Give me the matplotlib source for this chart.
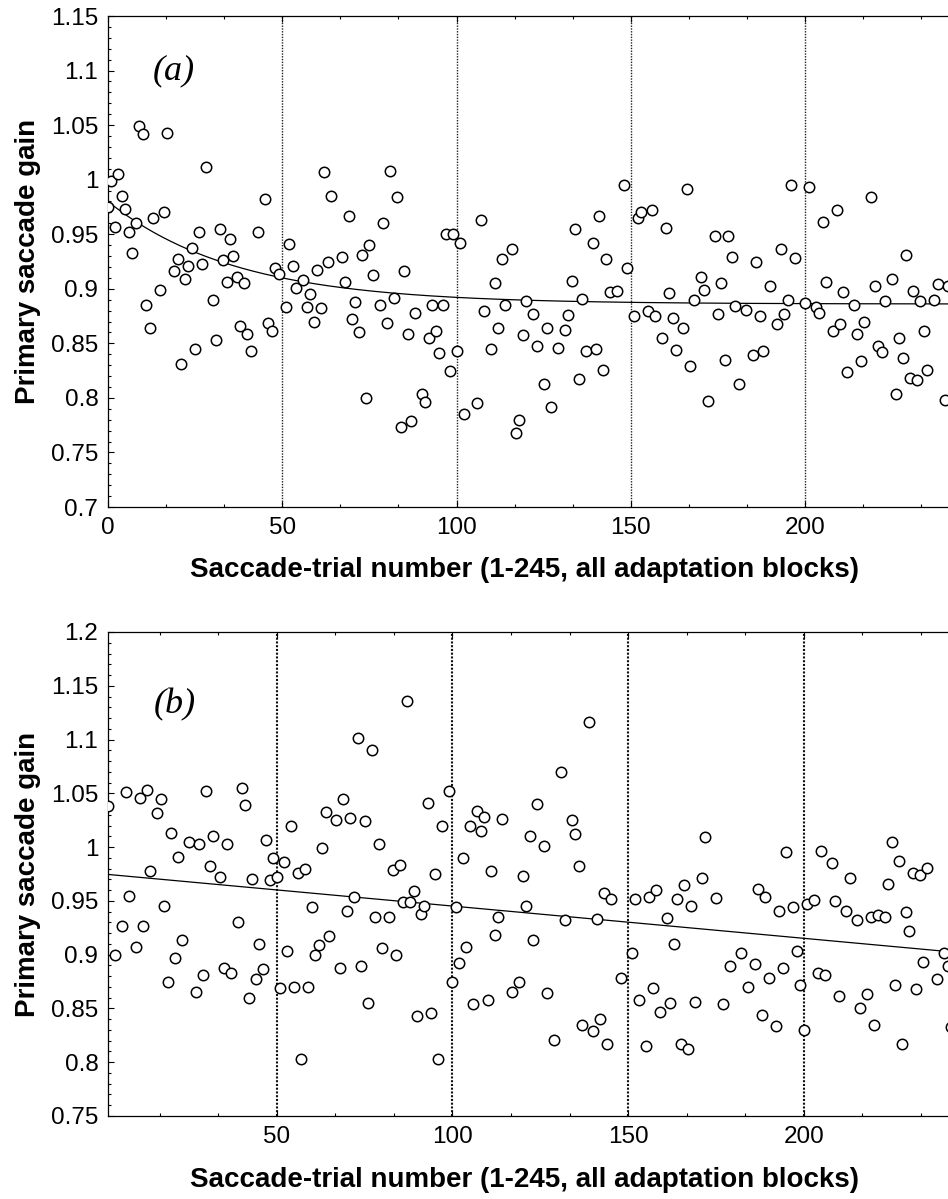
import numpy as np
import matplotlib
matplotlib.use("Agg")
import matplotlib.pyplot as plt
from matplotlib.ticker import MultipleLocator, FuncFormatter

# ---------------------------
# Data
# ---------------------------

# panel (a): trial number and primary saccade gain
trial_a = [0, 1, 2, 3, 4, 5, 6, 7, 8, 9, 10, 11, 12, 13, 15, 16, 17, 19, 20, 21,
           22, 23, 24, 25, 26, 27, 28, 30, 31, 32, 33, 34, 35, 36, 37, 38, 39, 40, 41, 43,
           45, 46, 47, 48, 49, 51, 52, 53, 54, 56, 57, 58, 59, 60, 61, 62, 63, 64, 67, 68,
           69, 70, 71, 72, 73, 74, 75, 76, 78, 79, 80, 81, 82, 83, 84, 85, 86, 87, 88, 90,
           91, 92, 93, 94, 95, 96, 97, 98, 99, 100, 101, 102, 106, 107, 108, 110, 111, 112, 113, 114,
           116, 117, 118, 119, 120, 122, 123, 125, 126, 127, 129, 131, 132, 133, 134, 135, 136, 137, 139, 140,
           141, 142, 143, 144, 146, 148, 149, 151, 152, 153, 155, 156, 157, 159, 160, 161, 162, 163, 165, 166,
           167, 168, 170, 171, 172, 174, 175, 176, 177, 178, 179, 180, 181, 183, 185, 186, 187, 188, 190, 192,
           193, 194, 195, 196, 197, 200, 201, 203, 204, 205, 206, 208, 209, 210, 211, 212, 214, 215, 216, 217,
           219, 220, 221, 222, 223, 225, 226, 227, 228, 229, 230, 231, 232, 233, 234, 235, 237, 238, 240, 241]
gain_a = [0.975, 0.999, 0.957, 1.005, 0.985, 0.973, 0.952, 0.933, 0.960, 1.049, 1.042, 0.885, 0.864, 0.965, 0.899, 0.970, 1.043, 0.916, 0.927, 0.831,
          0.909, 0.921, 0.937, 0.845, 0.952, 0.923, 1.012, 0.890, 0.853, 0.955, 0.926, 0.906, 0.946, 0.930, 0.911, 0.866, 0.905, 0.859, 0.843, 0.952,
          0.982, 0.869, 0.861, 0.919, 0.914, 0.883, 0.941, 0.921, 0.901, 0.908, 0.883, 0.895, 0.870, 0.917, 0.882, 1.007, 0.925, 0.985, 0.929, 0.906,
          0.967, 0.872, 0.888, 0.860, 0.931, 0.800, 0.940, 0.913, 0.885, 0.960, 0.869, 1.008, 0.892, 0.984, 0.773, 0.916, 0.859, 0.779, 0.878, 0.804,
          0.796, 0.855, 0.885, 0.861, 0.841, 0.885, 0.950, 0.825, 0.950, 0.843, 0.942, 0.785, 0.795, 0.963, 0.880, 0.845, 0.905, 0.864, 0.927, 0.885,
          0.936, 0.768, 0.780, 0.858, 0.889, 0.877, 0.848, 0.813, 0.864, 0.792, 0.846, 0.862, 0.876, 0.907, 0.955, 0.817, 0.891, 0.843, 0.942, 0.845,
          0.967, 0.826, 0.927, 0.897, 0.898, 0.995, 0.919, 0.875, 0.965, 0.970, 0.880, 0.972, 0.875, 0.855, 0.956, 0.896, 0.873, 0.844, 0.864, 0.991,
          0.829, 0.890, 0.911, 0.899, 0.797, 0.948, 0.877, 0.905, 0.835, 0.948, 0.929, 0.884, 0.813, 0.881, 0.839, 0.925, 0.875, 0.843, 0.903, 0.868,
          0.936, 0.877, 0.890, 0.995, 0.928, 0.887, 0.993, 0.883, 0.878, 0.961, 0.906, 0.861, 0.972, 0.868, 0.897, 0.824, 0.885, 0.859, 0.834, 0.870,
          0.984, 0.903, 0.848, 0.842, 0.889, 0.909, 0.804, 0.855, 0.837, 0.931, 0.818, 0.898, 0.816, 0.889, 0.861, 0.826, 0.890, 0.904, 0.798, 0.903]

# panel (a) exponential fit: asymptote + amplitude * exp(-trial / tau)
fit_a_asym = 0.886
fit_a_amp = 0.094
fit_a_tau = 36.6

# panel (b): trial number and primary saccade gain
trial_b = [2, 4, 6, 7, 8, 10, 11, 12, 13, 14, 16, 17, 18, 19, 20, 21, 22, 23, 25, 27,
           28, 29, 30, 31, 32, 34, 35, 36, 37, 39, 40, 41, 42, 43, 44, 45, 46, 47, 48, 49,
           50, 51, 52, 53, 54, 55, 56, 57, 58, 59, 60, 61, 62, 63, 64, 65, 67, 68, 69, 70,
           71, 72, 73, 74, 75, 76, 77, 78, 79, 80, 82, 83, 84, 85, 86, 87, 88, 89, 90, 91,
           92, 93, 94, 95, 96, 97, 99, 100, 101, 102, 103, 104, 105, 106, 107, 108, 109, 110, 111, 112,
           113, 114, 117, 119, 120, 121, 122, 123, 124, 126, 127, 129, 131, 132, 134, 135, 136, 137, 139, 140,
           141, 142, 143, 144, 145, 148, 151, 152, 153, 155, 156, 157, 158, 159, 161, 162, 163, 164, 165, 166,
           167, 168, 169, 171, 172, 175, 177, 179, 182, 184, 186, 187, 188, 189, 190, 192, 193, 194, 195, 197,
           198, 199, 200, 201, 203, 204, 205, 206, 208, 209, 210, 212, 213, 215, 216, 218, 219, 220, 221, 223,
           224, 225, 226, 227, 228, 229, 230, 231, 232, 233, 234, 235, 238, 240, 241, 242]
gain_b = [1.038, 0.900, 0.927, 1.051, 0.955, 0.907, 1.046, 0.927, 1.053, 0.978, 1.032, 1.045, 0.945, 0.875, 1.013, 0.897, 0.991, 0.914, 1.005, 0.865,
          1.003, 0.881, 1.052, 0.982, 1.010, 0.972, 0.888, 1.003, 0.883, 0.930, 1.055, 1.039, 0.860, 0.970, 0.877, 0.910, 0.887, 1.007, 0.969, 0.990,
          0.972, 0.869, 0.986, 0.903, 1.020, 0.870, 0.976, 0.803, 0.980, 0.870, 0.944, 0.900, 0.909, 0.999, 1.033, 0.917, 1.025, 0.888, 1.045, 0.941,
          1.027, 0.954, 1.101, 0.889, 1.024, 0.855, 1.090, 0.935, 1.003, 0.906, 0.935, 0.979, 0.900, 0.983, 0.949, 1.136, 0.949, 0.959, 0.843, 0.938,
          0.945, 1.041, 0.846, 0.975, 0.803, 1.020, 1.052, 0.875, 0.944, 0.892, 0.990, 0.907, 1.020, 0.854, 1.034, 1.015, 1.028, 0.858, 0.978, 0.918,
          0.935, 1.026, 0.865, 0.875, 0.973, 0.945, 1.010, 0.914, 1.040, 1.001, 0.864, 0.821, 1.070, 0.932, 1.025, 1.012, 0.982, 0.835, 1.116, 0.829,
          0.933, 0.840, 0.957, 0.817, 0.952, 0.878, 0.902, 0.952, 0.858, 0.815, 0.954, 0.869, 0.960, 0.847, 0.934, 0.855, 0.910, 0.952, 0.817, 0.965,
          0.812, 0.945, 0.856, 0.971, 1.009, 0.953, 0.854, 0.889, 0.902, 0.870, 0.891, 0.961, 0.844, 0.954, 0.878, 0.834, 0.941, 0.888, 0.995, 0.944,
          0.903, 0.872, 0.830, 0.947, 0.951, 0.883, 0.996, 0.881, 0.985, 0.950, 0.862, 0.941, 0.971, 0.932, 0.850, 0.863, 0.935, 0.835, 0.937, 0.935,
          0.966, 1.005, 0.872, 0.987, 0.817, 0.940, 0.922, 0.976, 0.868, 0.974, 0.893, 0.981, 0.877, 0.902, 0.889, 0.833]

# panel (b) linear fit
fit_b_intercept = 0.9752
fit_b_slope = -0.0003

block_edges = [50, 100, 150, 200]

XLABEL = "Saccade-trial number (1-245, all adaptation blocks)"
YLABEL = "Primary saccade gain"

# ---------------------------
# Figure
# ---------------------------
W, H = 948, 1199
fig = plt.figure(figsize=(W / 100, H / 100), dpi=100)
plt.rcParams["font.family"] = ["Liberation Sans", "DejaVu Sans"]


def px_axes(left, top, right, bottom):
    return [left / W, 1 - bottom / H, (right - left) / W, (bottom - top) / H]


def style_axes(ax, ylo, yhi, xlo):
    ax.set_xlim(xlo, 245)
    ax.set_ylim(ylo, yhi)
    ax.yaxis.set_major_locator(MultipleLocator(0.05))
    ax.yaxis.set_minor_locator(MultipleLocator(0.01))
    ax.yaxis.set_major_formatter(FuncFormatter(lambda v, p: "%g" % round(v, 2)))
    ax.xaxis.set_major_locator(MultipleLocator(50))
    ax.xaxis.set_minor_locator(MultipleLocator(50 / 3))
    ax.tick_params(which="both", direction="in", top=True, right=False,
                   labelsize=17.5, width=0.8, pad=7)
    ax.tick_params(which="major", length=4)
    ax.tick_params(which="minor", length=2.5)
    for s in ax.spines.values():
        s.set_linewidth(0.9)


# panel (a)
ax1 = fig.add_axes(px_axes(108, 16, 962, 507))
for xe in block_edges:
    ax1.axvline(xe, color="#222222", lw=1.0, ls=(0, (1, 1)), zorder=1)
ax1.plot(trial_a, gain_a, "o", ms=7.5, mfc="white", mec="black", mew=1.1,
         ls="none", zorder=3)
xs = np.linspace(0, 245, 300)
ax1.plot(xs, fit_a_asym + fit_a_amp * np.exp(-xs / fit_a_tau),
         color="black", lw=0.9, zorder=2)
style_axes(ax1, 0.7, 1.15, 0)
ax1.text(19, 1.1, "(a)", fontsize=26, style="italic",
         family=["Liberation Serif", "DejaVu Serif"], ha="center", va="center")

# panel (b)
ax2 = fig.add_axes(px_axes(108, 632, 962, 1116))
for xe in block_edges:
    ax2.axvline(xe, color="#111111", lw=1.5, ls=(0, (1, 0.8)), zorder=1)
ax2.plot(trial_b, gain_b, "o", ms=7.5, mfc="white", mec="black", mew=1.1,
         ls="none", zorder=3)
xb = np.array([2, 245])
ax2.plot(xb, fit_b_intercept + fit_b_slope * xb, color="black", lw=0.9, zorder=2)
style_axes(ax2, 0.75, 1.2, 2)
ax2.text(21, 1.132, "(b)", fontsize=26, style="italic",
         family=["Liberation Serif", "DejaVu Serif"], ha="center", va="center")

# axis labels placed in figure pixels (right part of the axes is cropped)
for ycen in [(16 + 507) / 2, (632 + 1116) / 2]:
    fig.text(28 / W, 1 - ycen / H, YLABEL, rotation=90, fontsize=20,
             fontweight="bold", ha="center", va="center")
for ycen in [570, 1180]:
    fig.text(524 / W, 1 - ycen / H, XLABEL, fontsize=20,
             fontweight="bold", ha="center", va="center")

fig.savefig("out.png", dpi=100)
